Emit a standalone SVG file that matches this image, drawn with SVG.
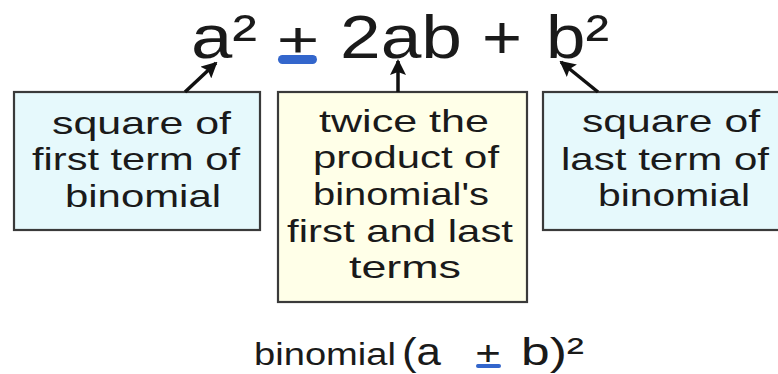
<svg xmlns="http://www.w3.org/2000/svg" width="778" height="374" viewBox="0 0 778 374">
<defs>
<style>
text{font-family:"Liberation Sans",Arial,sans-serif;fill:#1a1a1a}
.big{font-size:62px}
.lbl{font-size:32px}
.bot{font-size:38px}
.box{stroke:#3a3a3a;stroke-width:2.2}
.cyan{fill:#e6f9fc}
.yel{fill:#ffffe8}
.conn{stroke:#111;stroke-width:3.5;fill:none;marker-end:url(#ah)}
.pm{fill:#3366cc}
</style>
<marker id="ah" viewBox="0 0 16 16" refX="14" refY="8" markerWidth="16" markerHeight="16" markerUnits="userSpaceOnUse" orient="auto">
<path d="M0,0 L16,8 L0,16 L3,8 Z" fill="#111"/>
</marker>
</defs>
<rect width="778" height="374" fill="#fff"/>

<g id="formula">
<text class="big" x="191" y="58" textLength="66" lengthAdjust="spacingAndGlyphs">a²</text>
<text x="278" y="60" style="font-size:54px" textLength="40" lengthAdjust="spacingAndGlyphs">±</text>
<rect class="pm" x="278" y="55" width="39" height="9" rx="4.5"/>
<text class="big" x="340" y="58" textLength="122" lengthAdjust="spacingAndGlyphs">2ab</text>
<text class="big" x="482" y="58" textLength="40" lengthAdjust="spacingAndGlyphs">+</text>
<text class="big" x="546" y="58" textLength="63" lengthAdjust="spacingAndGlyphs">b²</text>
</g>

<g id="node-left">
<rect class="box cyan" x="14" y="92" width="246" height="138"/>
<text class="lbl" x="52" y="134" textLength="179" lengthAdjust="spacingAndGlyphs">square of</text>
<text class="lbl" x="32" y="170" textLength="208" lengthAdjust="spacingAndGlyphs">first term of</text>
<text class="lbl" x="65" y="207" textLength="156" lengthAdjust="spacingAndGlyphs">binomial</text>
</g>

<g id="node-middle">
<rect class="box yel" x="278" y="92" width="249" height="210"/>
<text class="lbl" x="319" y="132" textLength="170" lengthAdjust="spacingAndGlyphs">twice the</text>
<text class="lbl" x="313" y="168" textLength="186" lengthAdjust="spacingAndGlyphs">product of</text>
<text class="lbl" x="313" y="205" textLength="176" lengthAdjust="spacingAndGlyphs">binomial's</text>
<text class="lbl" x="287" y="242" textLength="226" lengthAdjust="spacingAndGlyphs">first and last</text>
<text class="lbl" x="349" y="278" textLength="112" lengthAdjust="spacingAndGlyphs">terms</text>
</g>

<g id="node-right">
<rect class="box cyan" x="543" y="92" width="260" height="138"/>
<text class="lbl" x="582" y="132" textLength="178" lengthAdjust="spacingAndGlyphs">square of</text>
<text class="lbl" x="561" y="170" textLength="208" lengthAdjust="spacingAndGlyphs">last term of</text>
<text class="lbl" x="598" y="206" textLength="152" lengthAdjust="spacingAndGlyphs">binomial</text>
</g>

<g id="connectors">
<line class="conn" x1="185" y1="92" x2="216" y2="63"/>
<line class="conn" x1="398" y1="92" x2="398" y2="61"/>
<line class="conn" x1="598" y1="92" x2="561" y2="62"/>
</g>

<g id="caption">
<text x="254" y="365" style="font-size:31px" textLength="142" lengthAdjust="spacingAndGlyphs">binomial</text>
<text class="bot" x="402" y="365" textLength="39" lengthAdjust="spacingAndGlyphs">(a</text>
<text x="476" y="367" style="font-size:36px" textLength="24" lengthAdjust="spacingAndGlyphs">±</text>
<rect class="pm" x="476" y="364" width="25" height="4" rx="2"/>
<text class="bot" x="521" y="365" textLength="63" lengthAdjust="spacingAndGlyphs">b)²</text>
</g>
</svg>
